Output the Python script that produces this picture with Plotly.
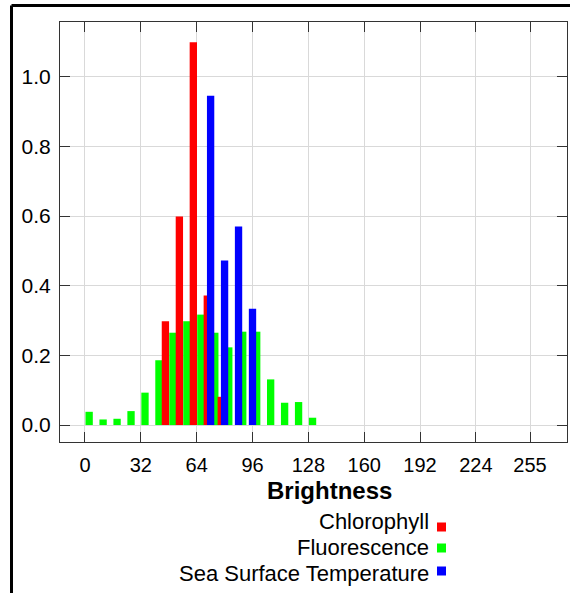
import plotly.graph_objects as go

# ---- data ----
brightness = [0, 8, 16, 24, 32, 40, 48, 56, 64, 72, 80, 88, 96, 104, 112, 120, 128]
chlorophyll = [0, 0, 0, 0, 0, 0, 0.298, 0.599, 1.099, 0.372, 0.081, 0, 0, 0, 0, 0, 0]
fluorescence = [0.038, 0.016, 0.018, 0.040, 0.093, 0.186, 0.265, 0.298, 0.317,
                0.265, 0.223, 0.268, 0.268, 0.131, 0.064, 0.066, 0.021]
sst = [0, 0, 0, 0, 0, 0, 0, 0, 0, 0.945, 0.472, 0.570, 0.334, 0, 0, 0, 0]
series_names = ["Chlorophyll", "Fluorescence", "Sea Surface Temperature"]
series_colors = ["#ff0000", "#00ff00", "#0000ff"]
x_tickvals = [0, 32, 64, 96, 128, 160, 192, 224, 255]
y_tickvals = [0.0, 0.2, 0.4, 0.6, 0.8, 1.0]

FONT = "Liberation Sans, Arial, Helvetica, sans-serif"
BAR_W = 4.2

fig = go.Figure()
# drawing order: green under red under blue
fig.add_trace(go.Bar(x=brightness, y=fluorescence, name=series_names[1],
                     marker=dict(color=series_colors[1], line=dict(width=0)),
                     width=BAR_W, offset=0.3))
fig.add_trace(go.Bar(x=brightness, y=chlorophyll, name=series_names[0],
                     marker=dict(color=series_colors[0], line=dict(width=0)),
                     width=BAR_W, offset=-4.0))
fig.add_trace(go.Bar(x=brightness, y=sst, name=series_names[2],
                     marker=dict(color=series_colors[2], line=dict(width=0)),
                     width=BAR_W, offset=-2.1))

L, R, T, B = 60, 3, 22, 151
W, H = 570, 593
pw, ph = W - L - R, H - T - B

def px(xp):
    return (xp - L) / pw

def py(yp):
    return (H - B - yp) / ph

fig.update_layout(
    width=W, height=H,
    margin=dict(l=L, r=R, t=T, b=B, pad=0),
    paper_bgcolor="white", plot_bgcolor="white",
    barmode="overlay", showlegend=False,
    font=dict(family=FONT, color="black"),
)
fig.update_xaxes(
    range=[-14.3, 276.2], tickvals=x_tickvals,
    ticks="inside", ticklen=10, tickcolor="#333", tickwidth=1,
    showline=True, linecolor="#333", linewidth=1, mirror="ticks",
    showgrid=True, gridcolor="#d9d9d9", gridwidth=1, zeroline=False,
    tickfont=dict(size=20, family=FONT, color="black"),
    ticklabelstandoff=5,
)
fig.update_yaxes(
    range=[-0.0487, 1.157], tickvals=y_tickvals, tickformat=".1f",
    ticks="inside", ticklen=10, tickcolor="#333", tickwidth=1,
    showline=True, linecolor="#333", linewidth=1, mirror="ticks",
    showgrid=True, gridcolor="#d9d9d9", gridwidth=1, zeroline=False,
    tickfont=dict(size=21, family=FONT, color="black"),
    ticklabelstandoff=4,
)

# axis title
fig.add_annotation(text="<b>Brightness</b>", xref="paper", yref="paper",
                   x=px(329.5), y=py(490), xanchor="center", yanchor="middle",
                   showarrow=False, font=dict(size=24, family=FONT, color="black"))

# custom legend: right-aligned text with swatch on the right
rows_y = [521.5, 547.5, 573]
swatch_y = [527, 548, 571]
for name, color, ty, sy in zip(series_names, series_colors, rows_y, swatch_y):
    fig.add_annotation(text=name, xref="paper", yref="paper",
                       x=px(431), y=py(ty), xanchor="right", yanchor="middle",
                       showarrow=False, font=dict(size=22, family=FONT, color="black"))
    fig.add_shape(type="rect", xref="paper", yref="paper",
                  x0=px(437), x1=px(446), y0=py(sy - 4.5), y1=py(sy + 4.5),
                  fillcolor=color, line=dict(width=0))

# outer frame (top and left edges visible)
fig.add_shape(type="line", xref="paper", yref="paper",
              x0=px(11.5), x1=px(600), y0=py(5.5), y1=py(5.5),
              line=dict(color="black", width=3))
fig.add_shape(type="line", xref="paper", yref="paper",
              x0=px(11.5), x1=px(11.5), y0=py(5.5), y1=py(620),
              line=dict(color="black", width=3))

fig.write_html("out.html", config={"displayModeBar": False},
               post_script="document.body.style.margin='0';document.body.style.padding='0';")
